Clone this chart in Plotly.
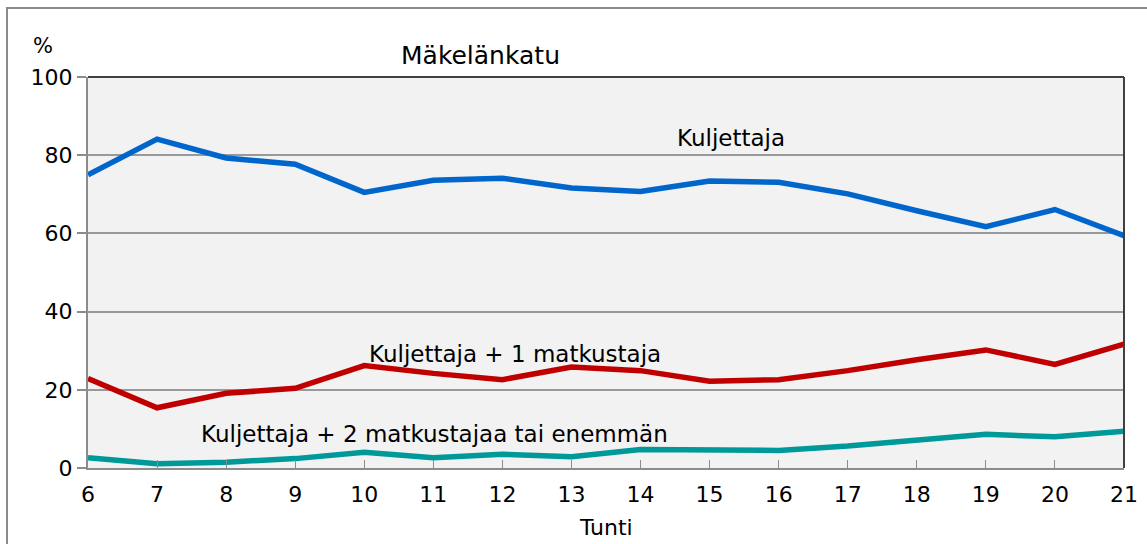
import plotly.graph_objects as go

hours = list(range(6, 22))
kuljettaja = [75.0, 84.1, 79.3, 77.7, 70.5, 73.6, 74.1, 71.6, 70.7, 73.4, 73.1, 70.1, 65.8, 61.7, 66.1, 59.4]
plus_one = [22.9, 15.4, 19.1, 20.4, 26.2, 24.2, 22.6, 25.8, 24.9, 22.2, 22.6, 24.9, 27.7, 30.2, 26.5, 31.7]
plus_two = [2.6, 1.1, 1.5, 2.4, 4.0, 2.6, 3.5, 2.9, 4.7, 4.7, 4.5, 5.6, 7.1, 8.6, 8.0, 9.4]

series = [
    ("Kuljettaja", kuljettaja, "#0066cc"),
    ("Kuljettaja + 1 matkustaja", plus_one, "#c00000"),
    ("Kuljettaja + 2 matkustajaa tai enemmän", plus_two, "#009999"),
]

FONT = "DejaVu Sans"
W, H = 1147, 544
L, R, T, B = 88, 23, 77, 76

fig = go.Figure()
for name, vals, color in series:
    fig.add_trace(go.Scatter(x=hours, y=vals, mode="lines", name=name,
                             line=dict(color=color, width=5.5), cliponaxis=False))

# series labels inside the plot
labels = [
    ("Kuljettaja", 15.31, 84.5),
    ("Kuljettaja + 1 matkustaja", 12.18, 29.2),
    ("Kuljettaja + 2 matkustajaa tai enemmän", 11.02, 8.8),
]
for text, x, y in labels:
    fig.add_annotation(text=text, x=x, y=y, xref="x", yref="y", showarrow=False,
                       xanchor="center", yanchor="middle",
                       font=dict(family=FONT, size=23, color="#000000"))

fig.add_annotation(text="Mäkelänkatu", x=11.69, y=1.054, xref="x", yref="paper",
                   showarrow=False, xanchor="center", yanchor="middle",
                   font=dict(family=FONT, size=25, color="#000000"))
fig.add_annotation(text="%", x=-0.0434, y=1.079, xref="paper", yref="paper",
                   showarrow=False, xanchor="center", yanchor="middle",
                   font=dict(family=FONT, size=21, color="#000000"))
fig.add_annotation(text="Tunti", x=0.5, y=-0.153, xref="paper", yref="paper",
                   showarrow=False, xanchor="center", yanchor="middle",
                   font=dict(family=FONT, size=22, color="#000000"))

px_w = W - L - R
px_h = H - T - B
# outer frame (runs off right and bottom edges)
fig.add_shape(type="rect", xref="paper", yref="paper",
              x0=(7 - L) / px_w, x1=(W + 10 - L) / px_w,
              y0=(H - B - H - 10) / px_h, y1=(H - B - 8) / px_h,
              line=dict(color="#8c8c8c", width=2), layer="below")
# dark top and right border of plot area
fig.add_shape(type="line", xref="paper", yref="paper", x0=0, x1=1, y0=1, y1=1,
              line=dict(color="#404040", width=2))
fig.add_shape(type="line", xref="paper", yref="paper", x0=1, x1=1, y0=0, y1=1,
              line=dict(color="#404040", width=2))

fig.update_layout(
    width=W, height=H,
    margin=dict(l=L, r=R, t=T, b=B, autoexpand=False),
    paper_bgcolor="#ffffff",
    plot_bgcolor="#f2f2f2",
    showlegend=False,
    font=dict(family=FONT, size=22, color="#000000"),
)
fig.update_xaxes(range=[6, 21], tickmode="array", tickvals=hours,
                 ticktext=[str(h) for h in hours], automargin=False,
                 showgrid=False, zeroline=False,
                 showline=True, linecolor="#8c8c8c", linewidth=2,
                 ticks="inside", ticklen=8, tickcolor="#8c8c8c", tickwidth=1,
                 tickfont=dict(family=FONT, size=22), ticklabelstandoff=6)
fig.update_yaxes(range=[0, 100], tickvals=[0, 20, 40, 60, 80, 100], automargin=False,
                 showgrid=True, gridcolor="#999999", gridwidth=2, zeroline=False,
                 showline=True, linecolor="#8c8c8c", linewidth=2,
                 ticks="outside", ticklen=9, tickcolor="#8c8c8c", tickwidth=2,
                 tickfont=dict(family=FONT, size=22))

# the page body has a default margin; drop it so the figure sits at the corner
fig.write_html("out.html", config={"displayModeBar": False},
               post_script="document.body.style.margin='0';")
